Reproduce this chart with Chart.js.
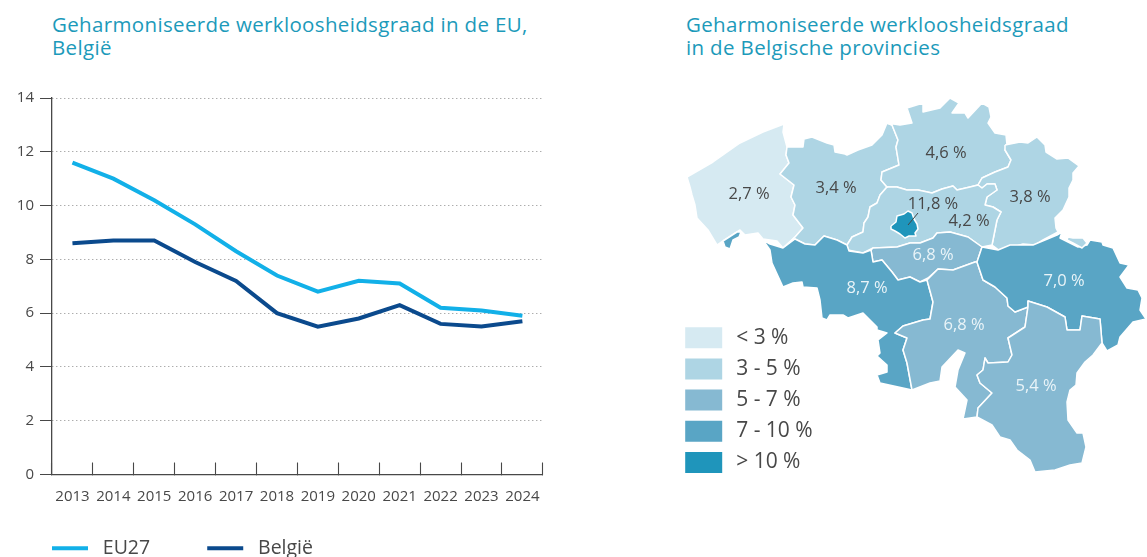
<!DOCTYPE html>
<html lang="nl">
<head>
<meta charset="utf-8">
<script src="https://cdn.jsdelivr.net/npm/chart.js@4"></script>
<style>
html,body{margin:0;padding:0;background:#fff;width:1147px;height:557px;overflow:hidden}
canvas{position:absolute;top:0}
.t{position:absolute;top:13px;font:20.5px/23px "Open Sans",sans-serif;letter-spacing:.35px;color:#1c9aba;white-space:nowrap}
</style>
</head>
<body>
<div class="t" style="left:52px">Geharmoniseerde werkloosheidsgraad in de EU,<br>België</div>
<div class="t" style="left:686px">Geharmoniseerde werkloosheidsgraad<br>in de Belgische provincies</div>
<canvas id="line" width="565" height="557" style="left:0"></canvas>
<canvas id="map" width="587" height="557" style="left:560px"></canvas>
<script>
const years = ['2013','2014','2015','2016','2017','2018','2019','2020','2021','2022','2023','2024'];
const eu27 = [11.6,11.0,10.2,9.3,8.3,7.4,6.8,7.2,7.1,6.2,6.1,5.9];
const belgie = [8.6,8.7,8.7,7.9,7.2,6.0,5.5,5.8,6.3,5.6,5.5,5.7];

const classLabels = ['< 3 %','3 - 5 %','5 - 7 %','7 - 10 %','> 10 %'];
const classLimits = [3,5,7,10,Infinity];
const classColors = ['#d6eaf2','#aed5e4','#86b9d2','#59a5c5','#1f95bb'];

const provinceNames = ['West-Vlaanderen','Oost-Vlaanderen','Antwerpen','Limburg','Vlaams-Brabant','Waals-Brabant','Henegouwen','Komen','Namen','Luik','Voeren','Luxemburg','Brussel'];
const provinceRates = [2.7,3.4,4.6,3.8,4.2,6.8,8.7,8.7,6.8,7.0,3.8,5.4,11.8];
const provinceShapes = [
 [[687,177],[713,162],[740,143],[763,132],[784,124],[783,132],[787,147],[786,155],[789,163],[780,174],[794,185],[791,197],[795,205],[793,215],[803,228],[795,237],[783,248],[777,241],[763,239],[758,233],[745,235],[740,230],[723,241],[717,245],[708,230],[697,218],[695,205],[692,195],[690,187]],
 [[787,147],[803,147],[804,139],[812,137],[827,143],[834,145],[835,152],[845,154],[847,155],[858,150],[872,145],[882,135],[887,123],[892,125],[898,140],[896,147],[899,165],[882,172],[881,180],[887,187],[880,195],[877,203],[870,207],[868,217],[864,223],[863,232],[852,237],[847,245],[837,240],[824,236],[815,245],[805,244],[795,239],[783,248],[795,237],[803,228],[793,215],[795,205],[791,197],[794,185],[780,174],[789,163],[786,155]],
 [[887,123],[900,125],[912,123],[907,108],[923,103],[923,112],[940,108],[950,98],[959,103],[952,113],[965,113],[968,118],[982,103],[989,107],[991,117],[988,123],[995,133],[1006,135],[1007,145],[1005,150],[1011,160],[1008,167],[995,172],[982,178],[978,185],[970,187],[957,190],[953,186],[942,189],[932,193],[918,190],[907,190],[897,187],[887,187],[881,180],[882,172],[899,165],[896,147],[898,140],[892,125]],
 [[1005,145],[1020,142],[1028,143],[1037,137],[1045,145],[1046,152],[1057,159],[1068,158],[1079,166],[1073,173],[1073,180],[1069,188],[1069,197],[1063,210],[1055,218],[1056,228],[1058,232],[1043,240],[1035,245],[1023,244],[1000,251],[992,245],[995,230],[997,220],[1001,212],[993,207],[985,205],[987,197],[997,190],[995,184],[987,184],[982,188],[978,185],[982,178],[995,172],[1008,167],[1011,160],[1005,150]],
 [[887,187],[897,187],[907,190],[918,190],[932,193],[942,189],[953,186],[957,190],[970,187],[978,185],[982,188],[987,184],[995,184],[997,190],[987,197],[985,205],[993,207],[1001,212],[997,220],[995,230],[992,245],[982,247],[968,237],[950,232],[937,233],[933,238],[920,243],[910,243],[897,247],[873,248],[863,253],[848,250],[847,245],[852,237],[863,232],[864,223],[868,217],[870,207],[877,203],[880,195]],
 [[871,250],[873,262],[882,260],[892,272],[898,280],[910,277],[920,282],[928,278],[938,269],[953,270],[975,262],[977,262],[982,247],[968,237],[950,232],[937,233],[933,238],[920,243],[910,243],[897,247],[873,248]],
 [[763,240],[770,244],[783,248],[795,239],[805,244],[815,245],[824,236],[837,240],[847,245],[849,251],[863,253],[871,250],[873,262],[882,260],[892,272],[898,280],[910,277],[920,282],[927,280],[933,302],[930,319],[923,320],[903,326],[895,333],[907,338],[903,350],[907,363],[912,390],[880,383],[877,375],[887,372],[887,365],[877,356],[880,353],[878,340],[887,333],[877,330],[877,327],[863,313],[848,318],[843,315],[830,315],[827,320],[822,318],[820,300],[817,288],[803,287],[802,282],[793,283],[783,287],[772,263],[770,250]],
 [[723,241],[737,232],[741,232],[739,237],[733,240],[730,249],[725,247]],
 [[927,280],[938,269],[953,270],[975,262],[977,262],[983,280],[995,287],[1007,298],[1008,306],[1015,312],[1028,307],[1025,327],[1008,338],[1012,355],[1008,362],[988,363],[985,358],[983,370],[977,375],[980,383],[992,393],[978,408],[977,417],[963,419],[967,400],[955,387],[958,370],[965,353],[958,350],[942,367],[940,381],[930,383],[912,390],[907,363],[903,350],[907,338],[895,333],[903,326],[923,320],[930,319],[933,302]],
 [[982,247],[998,250],[1010,245],[1018,245],[1033,245],[1045,240],[1057,235],[1062,232],[1060,238],[1068,242],[1078,247],[1087,245],[1090,240],[1102,242],[1103,245],[1113,248],[1120,263],[1129,265],[1120,277],[1127,288],[1138,290],[1142,298],[1140,310],[1146,319],[1133,322],[1120,337],[1118,345],[1107,351],[1102,343],[1100,319],[1082,316],[1080,330],[1067,330],[1065,317],[1047,307],[1028,301],[1028,307],[1015,312],[1008,306],[1007,298],[995,287],[983,280],[977,262]],
 [[1068,237],[1073,238],[1083,238],[1087,243],[1082,248],[1073,243],[1067,240]],
 [[1028,307],[1028,301],[1047,307],[1065,317],[1067,330],[1080,330],[1082,316],[1100,319],[1102,343],[1093,355],[1085,362],[1077,373],[1076,385],[1070,390],[1067,402],[1068,420],[1077,433],[1083,433],[1086,447],[1082,463],[1070,465],[1055,470],[1035,472],[1030,460],[1017,450],[1010,440],[1000,437],[992,425],[977,417],[978,408],[992,393],[980,383],[977,375],[983,370],[985,358],[988,363],[1008,362],[1012,355],[1008,338],[1025,327]],
 [[891,226],[896,222],[897,216],[904,214],[908,211],[912,213],[914,219],[917,224],[918,229],[915,233],[916,236],[909,236],[905,238],[900,234],[895,231],[891,229]]
];
const labelRates = [2.7,3.4,4.6,3.8,11.8,4.2,6.8,8.7,7.0,6.8,5.4];
const labelPoints = [[749,194],[836,188],[946,153],[1030,197],[933,204],[969,221],[933,255],[867,288],[1064,281],[964,325],[1036,386]];
const leaderLine = [[918,213],[908,225]];

const FONT = '"Open Sans",sans-serif';
const INK = '#484848';
const classOf = r => classLimits.findIndex(l => r < l);
const toPts = a => a.map(p => ({x:p[0],y:p[1]}));

const linePlugin = {
  id:'lineExtras',
  afterLayout(c){ c.scales.x.bottom = 530; },
  beforeDraw(c){
    const l=c.legend, h=l.height;
    l.top = 557-h+11; l.bottom = l.top+h;
  }
};
new Chart(document.getElementById('line'), {
  type:'line',
  data:{labels:years,datasets:[
    {label:'EU27',data:eu27,borderColor:'#12b0e8',backgroundColor:'#12b0e8',borderWidth:4,pointRadius:0,tension:0},
    {label:'België',data:belgie,borderColor:'#0b4a8d',backgroundColor:'#0b4a8d',borderWidth:4,pointRadius:0,tension:0}
  ]},
  plugins:[linePlugin],
  options:{
    responsive:false,animation:false,
    layout:{padding:{top:98,right:11,left:0,bottom:0}},
    plugins:{
      tooltip:{enabled:false},
      legend:{position:'bottom',align:'start',
        labels:{usePointStyle:true,pointStyle:'line',pointStyleWidth:36,boxHeight:3,padding:52,color:INK,font:{family:FONT,size:19.5},
          generateLabels:c=>Chart.defaults.plugins.legend.labels.generateLabels(c).map(l=>({...l,text:' '+l.text+' '}))}}
    },
    scales:{
      x:{offset:true,
        afterFit:s=>{s.height=557-474.5-s.chart.legend.height;},
        border:{color:INK,width:1.3},
        grid:{offset:true,drawOnChartArea:false,tickLength:-12,tickColor:INK,tickWidth:1.1},
        ticks:{color:INK,autoSkip:false,maxRotation:0,padding:25,font:{family:FONT,size:15}}},
      y:{min:0,max:14,
        afterFit:s=>{s.width=52;},
        border:{color:INK,width:1.3,dash:[1,3]},
        grid:{color:'#8a8a8a',lineWidth:1,tickLength:12,tickColor:INK,tickBorderDash:[]},
        ticks:{stepSize:2,color:INK,padding:6,font:{family:FONT,size:15}}}
    }
  }
});

const mapDatasets = provinceShapes.map((shape,i)=>({
  label:provinceNames[i],
  data:toPts(shape.concat([shape[0]])),
  showLine:true,fill:'shape',order:provinceShapes.length-i+2,
  backgroundColor:classColors[classOf(provinceRates[i])],
  borderColor:'#fff',borderWidth:1.5,borderJoinStyle:'round',pointRadius:0,tension:0
}));
mapDatasets.push({label:'leader',data:toPts(leaderLine),showLine:true,borderColor:'#444',borderWidth:1,pointRadius:0,order:1});
mapDatasets.push({label:'labels',data:toPts(labelPoints),showLine:false,pointRadius:0,order:0});

const mapPlugin = {
  id:'mapExtras',
  beforeDraw(c){
    const l=c.legend; l.left=115; l.right=300; l.top=317; l.bottom=557;
  },
  afterDatasetsDraw(c){
    const m=c.getDatasetMeta(c.data.datasets.length-1), x=c.ctx;
    x.save(); x.font='16.5px '+FONT; x.textAlign='center'; x.textBaseline='middle';
    m.data.forEach((p,i)=>{
      const k=classOf(labelRates[i]);
      x.fillStyle = (k===2||k===3) ? '#eaf4f8' : INK;
      x.fillText(labelRates[i].toFixed(1).replace('.',',')+' %',p.x,p.y);
    });
    x.restore();
  }
};
new Chart(document.getElementById('map'), {
  type:'scatter',
  data:{datasets:mapDatasets},
  plugins:[mapPlugin],
  options:{
    responsive:false,animation:false,
    layout:{padding:0},
    plugins:{
      tooltip:{enabled:false},
      legend:{position:'chartArea',align:'start',
        labels:{boxWidth:37,boxHeight:21,padding:10.2,color:INK,font:{family:FONT,size:21},
          generateLabels:()=>classLabels.map((t,i)=>({text:'\u2009'+t,fillStyle:classColors[i],strokeStyle:classColors[i],lineWidth:0,fontColor:INK,datasetIndex:0}))}}
    },
    scales:{
      x:{type:'linear',display:false,min:560,max:1147},
      y:{type:'linear',display:false,min:0,max:557,reverse:true}
    }
  }
});
</script>
</body>
</html>
